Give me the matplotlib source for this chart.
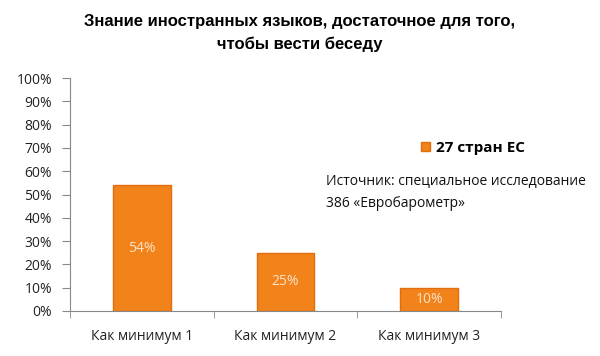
import matplotlib
matplotlib.use("Agg")
import matplotlib.pyplot as plt
import numpy as np

categories = ["Как минимум 1", "Как минимум 2", "Как минимум 3"]
values = [54, 25, 10]
series_name = "27 стран ЕС"
yticks = [0, 10, 20, 30, 40, 50, 60, 70, 80, 90, 100]

fig = plt.figure(figsize=(6.0, 3.56), dpi=100)
W, H = 600, 356
ax = fig.add_axes([70 / W, 1 - 311 / H, (501 - 70) / W, (311 - 78) / H])

x = np.arange(len(categories))
bars = ax.bar(x, values, width=0.40, color="#F2821A", edgecolor="#E06E10", linewidth=1.0,
              label=series_name)
for b, v in zip(bars, values):
    ax.text(b.get_x() + b.get_width() / 2, v / 2, f"{v}%", ha="center", va="center",
            color="#FDE3C8", fontsize=10, family="Open Sans")

ax.set_xlim(-0.5, len(categories) - 0.5)
ax.set_ylim(0, 100)
ax.set_yticks(yticks)
ax.set_yticklabels([f"{t}%" for t in yticks], family="Open Sans", fontsize=10, color="#222222")
ax.set_xticks(x)
ax.set_xticklabels(categories, family="Open Sans", fontsize=10, color="#222222")
ax.set_xticks(np.arange(len(categories) + 1) - 0.5, minor=True)
ax.tick_params(axis="x", which="major", length=0, pad=13)
ax.tick_params(axis="x", which="minor", length=5, color="#888888", direction="out")
ax.tick_params(axis="y", length=6, color="#888888", pad=7)
for s in ["top", "right"]:
    ax.spines[s].set_visible(False)
for s in ["left", "bottom"]:
    ax.spines[s].set_color("#888888")

fig.text(0.5, 1 - 33 / H, "Знание иностранных языков, достаточное для того,\nчтобы вести беседу",
         ha="center", va="center", family="Liberation Sans", fontweight="bold", fontsize=12,
         linespacing=1.55)

leg = fig.legend(handles=[bars], labels=[series_name], loc="center left",
                 bbox_to_anchor=(407 / W, 1 - 148 / H), frameon=False,
                 prop={"family": "Open Sans", "weight": "bold", "size": 11},
                 handlelength=0.6, handleheight=0.6, handletextpad=0.4)

fig.text(326 / W, 1 - 182 / H, "Источник: специальное исследование", ha="left", va="center",
         family="Open Sans", fontsize=10, color="#111111")
fig.text(326 / W, 1 - 204 / H, "386 «Евробарометр»", ha="left", va="center",
         family="Open Sans", fontsize=10, color="#111111")

fig.savefig("out.png", dpi=100)
